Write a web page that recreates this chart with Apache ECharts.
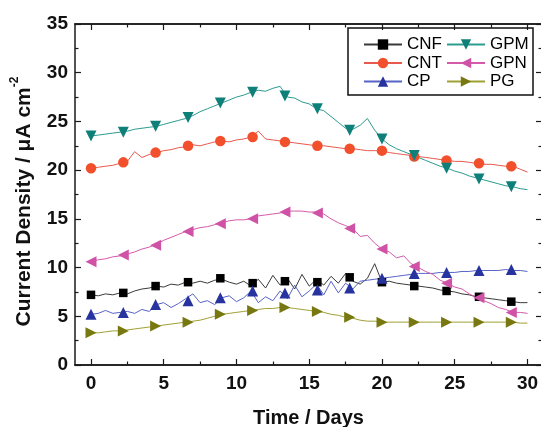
<!DOCTYPE html>
<html>
<head>
<meta charset="utf-8">
<script src="https://cdn.jsdelivr.net/npm/echarts@6/dist/echarts.min.js"></script>
<style>
  html, body { margin: 0; padding: 0; background: #fff; }
  #chart { width: 541px; height: 427px; }
</style>
</head>
<body>
<div id="chart"></div>
<script>
'use strict';

var days = [0, 0.5, 1, 1.5, 2, 2.5, 3, 3.5, 4, 4.5,
    5, 5.5, 6, 6.5, 7, 7.5, 8, 8.5, 9, 9.5,
    10, 10.5, 11, 11.5, 12, 12.5, 13, 13.5, 14, 14.5,
    15, 15.5, 16, 16.5, 17, 17.5, 18, 18.5, 19, 19.5,
    20, 20.5, 21, 21.5, 22, 22.5, 23, 23.5, 24, 24.5,
    25, 25.5, 26, 26.5, 27, 27.5, 28, 28.5, 29, 29.5,
    30];

var cnf = [7.2, 7.1, 7.3, 7.2, 7.4, 7.3, 7.6, 7.8, 7.9, 8.1,
    8.0, 8.3, 8.2, 8.5, 8.4, 8.6, 8.4, 8.7, 8.8, 8.5,
    8.3, 8.6, 8.1, 8.8, 7.9, 9.2, 8.2, 8.9, 7.8, 9.3,
    8.1, 8.8, 8.2, 9.1, 8.4, 9.4, 8.6, 8.3, 8.9, 10.4,
    8.5, 8.6, 8.4, 8.3, 8.2, 8.1, 8.0, 7.9, 7.7, 7.6,
    7.5, 7.3, 7.2, 7.0, 6.9, 6.8, 6.7, 6.6, 6.5, 6.4,
    6.4];
var cp = [5.2, 5.3, 5.6, 5.3, 5.4, 5.5, 5.3, 5.7, 5.5, 6.2,
    6.4, 5.9, 6.3, 6.8, 7.3, 6.4, 6.6, 6.2, 6.9, 7.1,
    6.5, 6.9, 7.6, 6.4, 7.0, 6.6, 7.6, 6.8, 8.2, 7.0,
    7.6, 8.3, 7.2, 8.6, 7.4, 8.4, 7.8, 8.6, 8.7, 8.8,
    8.9, 9.0, 9.1, 9.2, 9.3, 9.4, 9.4, 9.4, 9.5, 9.5,
    9.5, 9.6, 9.6, 9.7, 9.7, 9.7, 9.7, 9.8, 9.7, 9.7,
    9.6];
var pg = [3.3, 3.3, 3.4, 3.5, 3.5, 3.6, 3.7, 3.8, 3.9, 4.0,
    4.1, 4.2, 4.3, 4.4, 4.5, 4.6, 4.8, 5.0, 5.2, 5.3,
    5.4, 5.5, 5.6, 5.7, 5.8, 5.8, 5.9, 5.9, 5.8, 5.7,
    5.6, 5.5, 5.4, 5.2, 5.1, 4.9, 4.8, 4.6, 4.5, 4.5,
    4.4, 4.4, 4.4, 4.4, 4.4, 4.4, 4.4, 4.4, 4.4, 4.4,
    4.4, 4.4, 4.4, 4.4, 4.4, 4.4, 4.4, 4.4, 4.4, 4.3,
    4.3];
var gpn = [10.6, 10.8, 10.9, 11.1, 11.2, 11.4, 11.6, 11.9, 12.1, 12.4,
    12.8, 13.1, 13.4, 13.7, 13.9, 14.1, 14.2, 14.4, 14.6, 14.8,
    14.9, 14.9, 15.0, 15.3, 15.4, 15.5, 15.6, 15.8, 15.8, 15.8,
    15.7, 15.7, 15.5, 15.0, 14.6, 14.3, 14.0, 13.2, 13.3, 12.5,
    11.9, 11.6, 11.0, 11.2, 10.4, 10.0, 9.6, 9.3, 8.7, 8.4,
    8.0, 7.8, 7.3, 6.9, 6.6, 6.3, 5.9, 5.7, 5.4, 5.4,
    5.3];
var cnt = [20.2, 20.3, 20.4, 20.5, 20.7, 20.9, 21.9, 21.3, 21.6, 21.8,
    22.0, 22.1, 22.3, 22.4, 22.6, 22.5, 22.7, 22.9, 23.0, 22.9,
    23.1, 23.2, 23.4, 24.0, 23.2, 23.1, 23.0, 22.9, 22.8, 22.7,
    22.6, 22.5, 22.5, 22.4, 22.3, 22.2, 22.2, 22.1, 22.0, 22.0,
    22.0, 21.8, 21.7, 21.6, 21.5, 21.4, 21.3, 21.2, 21.1, 21.0,
    20.9, 20.9, 20.8, 20.7, 20.6, 20.6, 20.5, 20.4, 20.4, 20.1,
    19.8];
var gpm = [23.5, 23.6, 23.7, 23.8, 23.9, 24.0, 24.2, 24.3, 24.4, 24.5,
    24.7, 24.9, 25.1, 25.3, 25.6, 26.0, 26.3, 26.6, 26.9, 27.2,
    27.5, 27.7, 28.0, 28.2, 28.1, 28.4, 28.6, 27.5, 27.4, 27.0,
    26.8, 26.3, 26.1, 25.5, 24.9, 24.3, 24.2, 24.6, 25.3, 24.1,
    23.2, 22.6, 22.2, 21.9, 21.6, 21.3, 21.0, 20.7, 20.4, 20.2,
    19.9, 19.7, 19.4, 19.2, 19.0, 18.8, 18.6, 18.4, 18.3, 18.1,
    18.0];

// marker positions (symbols drawn on each curve)
var markDays = [0, 2.22, 4.44, 6.67, 8.89, 11.11, 13.33, 15.56, 17.78, 20, 22.22, 24.44, 26.67, 28.89];
var cnfMarks = [7.2, 7.4, 8.1, 8.5, 8.9, 8.4, 8.6, 8.5, 9.0, 8.5, 8.1, 7.6, 7.0, 6.5];
var cpMarks = [5.2, 5.4, 6.2, 6.6, 6.9, 7.6, 7.4, 7.7, 7.9, 8.9, 9.4, 9.5, 9.7, 9.8];
var pgMarks = [3.3, 3.5, 4.0, 4.4, 5.2, 5.6, 5.9, 5.5, 4.9, 4.4, 4.4, 4.4, 4.4, 4.4];
var gpnMarks = [10.6, 11.3, 12.3, 13.7, 14.5, 15.0, 15.7, 15.6, 14.0, 11.9, 10.1, 8.4, 6.9, 5.4];
var cntMarks = [20.2, 20.8, 21.8, 22.5, 23.0, 23.4, 22.9, 22.5, 22.2, 22.0, 21.4, 21.0, 20.7, 20.4];
var gpmMarks = [23.5, 23.9, 24.5, 25.4, 26.9, 28.0, 27.6, 26.3, 24.1, 23.2, 21.5, 20.2, 19.1, 18.3];

var xMajor = [0, 5, 10, 15, 20, 25, 30];
var xMinor = [2.5, 7.5, 12.5, 17.5, 22.5, 27.5];

var FONT = 'Liberation Sans, Arial, sans-serif';
var AXIS_COLOR = '#1a1a1a';

var curves = [
    { name: 'CNF', values: cnf, marks: cnfMarks, symbol: 'rect', size: 8.5, rotate: 0, line: '#3a3a3a', mark: '#000000' },
    { name: 'CNT', values: cnt, marks: cntMarks, symbol: 'circle', size: 10.5, rotate: 0, line: '#e8584c', mark: '#f2502c' },
    { name: 'CP', values: cp, marks: cpMarks, symbol: 'triangle', size: 11, rotate: 0, line: '#5763c6', mark: '#27339e' },
    { name: 'GPM', values: gpm, marks: gpmMarks, symbol: 'triangle', size: 11, rotate: 180, line: '#2c9b90', mark: '#0f7f79' },
    { name: 'GPN', values: gpn, marks: gpnMarks, symbol: 'triangle', size: 11, rotate: 90, line: '#d45aaa', mark: '#d052a6' },
    { name: 'PG', values: pg, marks: pgMarks, symbol: 'triangle', size: 11, rotate: -90, line: '#a0a036', mark: '#787810' }
];

function pairs(xs, ys) {
    return xs.map(function (x, i) { return [x, ys[i]]; });
}

function buildSeries() {
    var lines = curves.map(function (c) {
        return {
            type: 'line',
            name: c.name,
            data: pairs(days, c.values),
            symbol: c.symbol,
            symbolRotate: c.rotate,
            showSymbol: false,
            lineStyle: { color: c.line, width: 1 },
            itemStyle: { color: c.mark },
            z: 2
        };
    });
    var marks = curves.map(function (c) {
        return {
            type: 'scatter',
            name: c.name + ' marks',
            data: pairs(markDays, c.marks),
            symbol: c.symbol,
            symbolSize: c.size,
            symbolRotate: c.rotate,
            itemStyle: { color: c.mark, opacity: 1 },
            z: 3
        };
    });
    return lines.concat(marks);
}

function xAxisDef(position, ticks, len, withLabels) {
    var axis = {
        type: 'value',
        position: position,
        min: -1.1,
        max: 31,
        axisLine: { show: true, onZero: false, lineStyle: { color: AXIS_COLOR, width: 1.5 } },
        axisTick: { show: true, inside: true, length: len, customValues: ticks, lineStyle: { color: AXIS_COLOR, width: 1.2 } },
        axisLabel: { show: false },
        splitLine: { show: false }
    };
    if (withLabels) {
        axis.axisLabel = {
            show: true,
            customValues: ticks,
            margin: 9,
            color: '#111',
            fontFamily: FONT,
            fontWeight: 'bold',
            fontSize: 19
        };
        axis.name = 'Time / Days';
        axis.nameLocation = 'middle';
        axis.nameGap = 43;
        axis.nameTextStyle = { color: '#111', fontFamily: FONT, fontWeight: 'bold', fontSize: 20 };
    }
    return axis;
}

function yAxisDef(position, withLabels) {
    var axis = {
        type: 'value',
        position: position,
        min: 0,
        max: 35,
        interval: 5,
        axisLine: { show: true, onZero: false, lineStyle: { color: AXIS_COLOR, width: 1.5 } },
        axisTick: { show: true, inside: true, length: 6, lineStyle: { color: AXIS_COLOR, width: 1.2 } },
        minorTick: { show: true, splitNumber: 2, length: 3.5, lineStyle: { color: AXIS_COLOR, width: 1.2 } },
        axisLabel: { show: false },
        splitLine: { show: false },
        minorSplitLine: { show: false }
    };
    if (withLabels) {
        axis.axisLabel = { show: true, margin: 7, color: '#111', fontFamily: FONT, fontWeight: 'bold', fontSize: 19 };
        axis.name = '{t|Current Density / μA cm}{s|-2}';
        axis.nameLocation = 'middle';
        axis.nameGap = 40;
        // extra right padding nudges the rotated title slightly downward
        axis.nameTextStyle = {
            padding: [0, 14, 0, 0],
            rich: {
                t: { color: '#111', fontFamily: FONT, fontWeight: 'bold', fontSize: 21, lineHeight: 26, verticalAlign: 'bottom' },
                s: { color: '#111', fontFamily: FONT, fontWeight: 'bold', fontSize: 12, verticalAlign: 'top' }
            }
        };
    }
    return axis;
}

function legendDef(names, left) {
    return {
        data: names,
        orient: 'vertical',
        left: left,
        top: 36,
        itemWidth: 38,
        itemHeight: 13,
        itemGap: 1.5,
        padding: 0,
        selectedMode: false,
        textStyle: { color: '#000', fontFamily: FONT, fontSize: 17 }
    };
}

var chart = echarts.init(document.getElementById('chart'), null, { renderer: 'canvas' });

chart.setOption({
    backgroundColor: '#ffffff',
    animation: false,
    grid: { left: 75, top: 24, width: 467, height: 341, containLabel: false, outerBoundsMode: 'none' },
    xAxis: [
        xAxisDef('bottom', xMajor, 6, true),
        xAxisDef('bottom', xMinor, 3.5, false),
        xAxisDef('top', xMajor, 6, false),
        xAxisDef('top', xMinor, 3.5, false)
    ],
    yAxis: [
        yAxisDef('left', true),
        yAxisDef('right', false)
    ],
    legend: [
        legendDef(['CNF', 'CNT', 'CP'], 363),
        legendDef(['GPM', 'GPN', 'PG'], 446)
    ],
    graphic: [{
        type: 'rect',
        shape: { x: 348, y: 28, width: 185, height: 67 },
        style: { fill: 'none', stroke: '#111', lineWidth: 1.5 },
        z: 10
    }],
    series: buildSeries()
});
</script>
</body>
</html>
